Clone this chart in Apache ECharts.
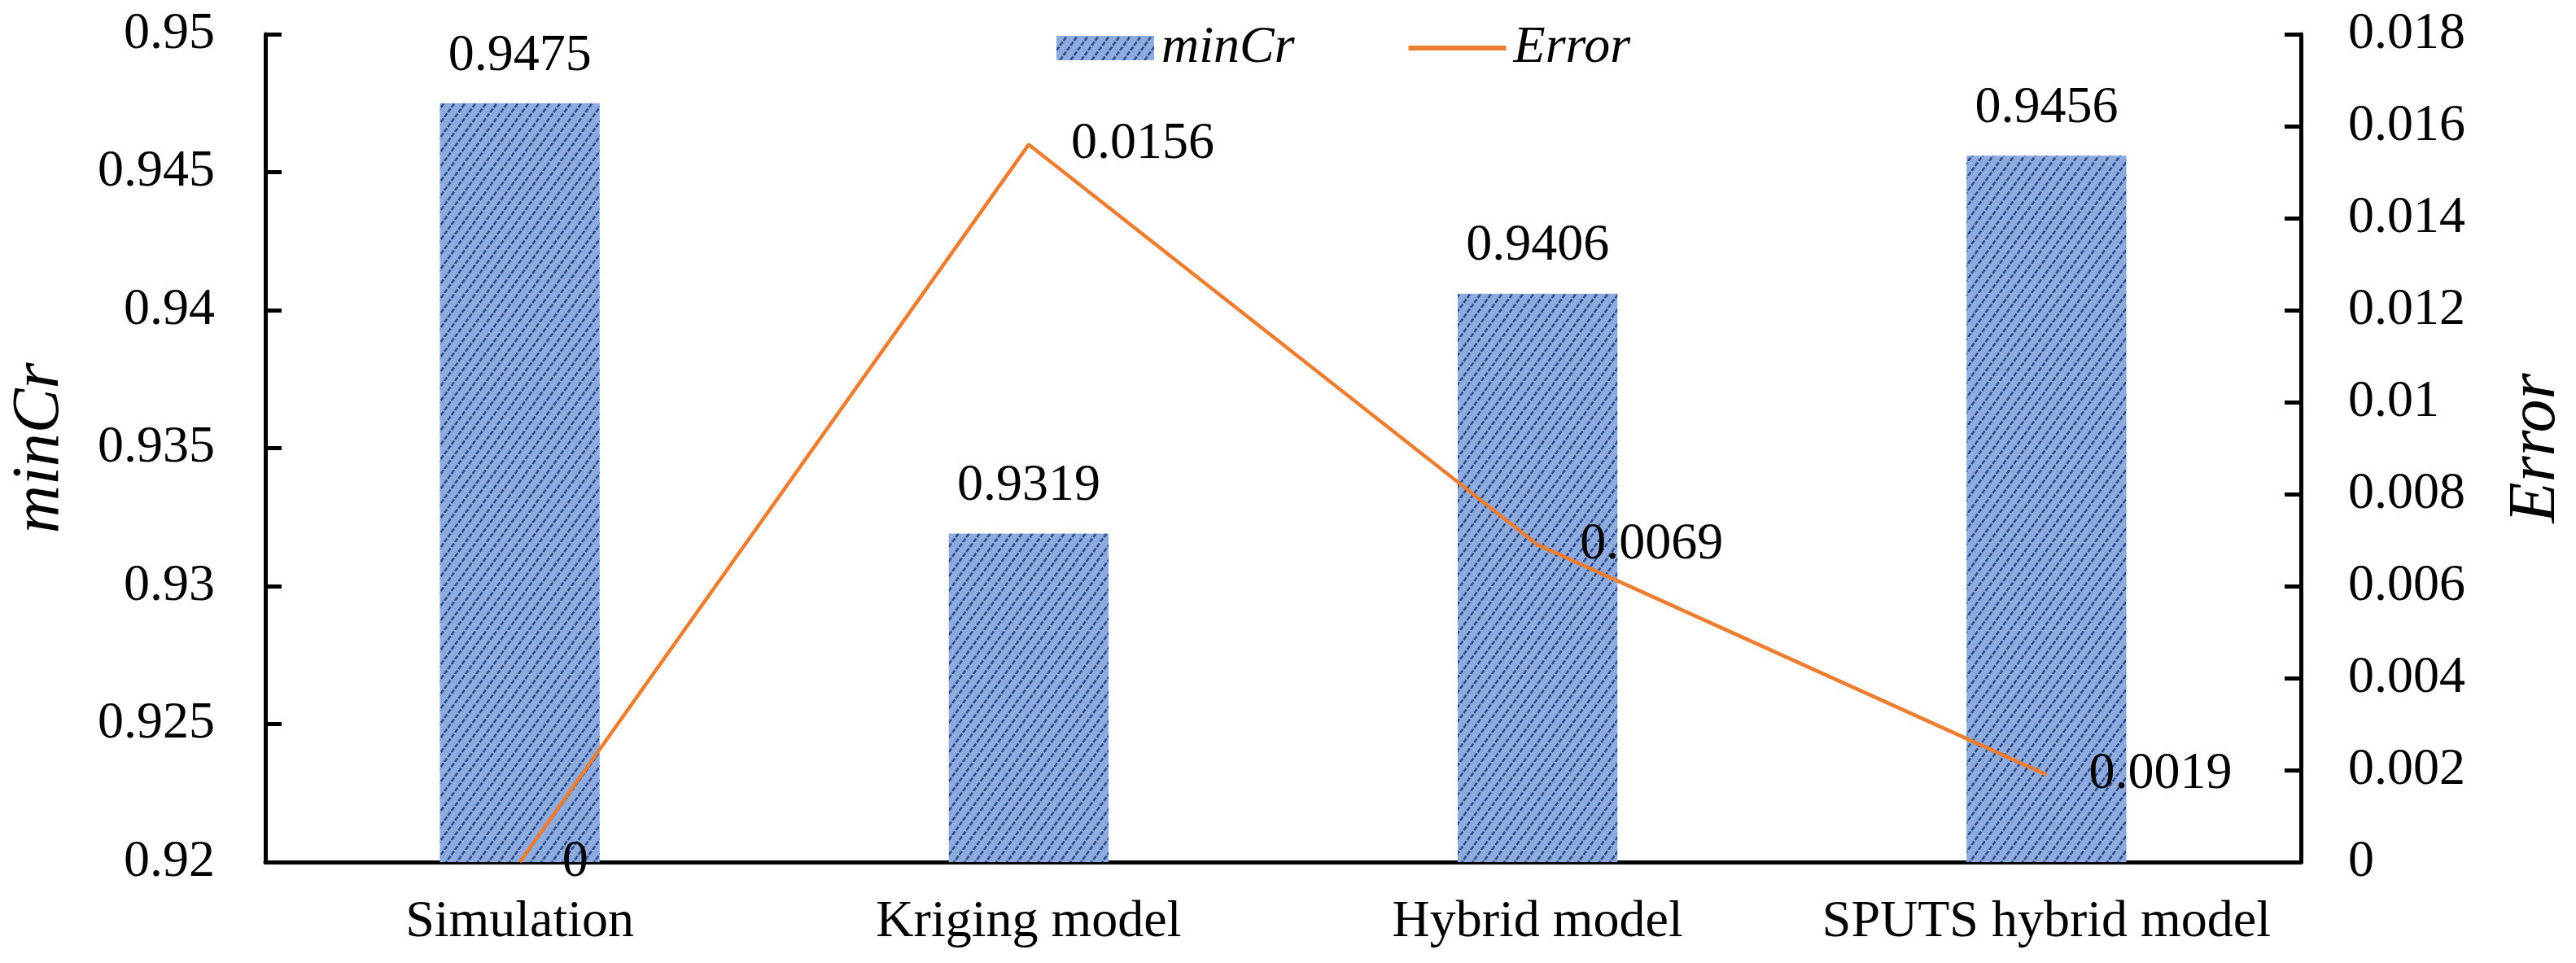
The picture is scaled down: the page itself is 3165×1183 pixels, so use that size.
<!DOCTYPE html>
<html>
<head>
<meta charset="utf-8">
<script src="https://cdn.jsdelivr.net/npm/echarts@6/dist/echarts.min.js"></script>
<style>
html,body{margin:0;padding:0;background:#fff;}
#chart{width:3165px;height:1183px;}
</style>
</head>
<body>
<div id="chart"></div>
<script>
const categories = ['Simulation', 'Kriging model', 'Hybrid model', 'SPUTS hybrid model'];
const minCrValues = [0.9475, 0.9319, 0.9406, 0.9456];
const errorValues = [0, 0.0156, 0.0069, 0.0019];
const leftTicks = [0.92, 0.925, 0.93, 0.935, 0.94, 0.945, 0.95];
const rightTicks = [0, 0.002, 0.004, 0.006, 0.008, 0.01, 0.012, 0.014, 0.016, 0.018];

const FONT = '"Liberation Serif", "Times New Roman", serif';

// hatched pattern tile: light blue with dark blue dotted diagonal stripes
function makeTile() {
  const w = 13, h = 18;
  const c = document.createElement('canvas');
  c.width = w; c.height = h;
  const ctx = c.getContext('2d');
  ctx.fillStyle = '#8FAADC';
  ctx.fillRect(0, 0, w, h);
  ctx.strokeStyle = '#2A4F8F';
  ctx.lineWidth = 2.6;
  const L = Math.sqrt(w * w + h * h);
  ctx.setLineDash([L / 3 * 0.75, L / 3 * 0.25]);
  for (const dx of [-w, 0, w]) {
    ctx.beginPath();
    ctx.moveTo(dx, h);
    ctx.lineTo(dx + w, 0);
    ctx.stroke();
  }
  return c;
}
const pattern = { image: makeTile(), repeat: 'repeat' };

function fmt(v) { return String(Number(v.toFixed(4))); }

const chart = echarts.init(document.getElementById('chart'), null, { renderer: 'canvas' });
chart.setOption({
  backgroundColor: '#ffffff',
  animation: false,
  textStyle: { fontFamily: FONT },
  legend: {
    left: 1293,
    top: 22,
    itemWidth: 120,
    itemHeight: 30,
    itemGap: 140,
    textStyle: { fontFamily: FONT, fontSize: 64, fontStyle: 'italic', color: '#000', padding: [0, 0, 0, 4] },
    data: [
      { name: 'minCr', icon: 'rect' },
      { name: 'Error', icon: 'path://M0,0 L120,0 L120,6 L0,6 Z' }
    ]
  },
  grid: { left: 322, right: 332, top: 42, bottom: 124, containLabel: false },
  xAxis: {
    type: 'category',
    data: categories,
    axisLine: { show: true, lineStyle: { color: '#000', width: 5 } },
    axisTick: { show: false },
    axisLabel: { color: '#000', fontFamily: FONT, fontSize: 64, margin: 42, interval: 0 },
    splitLine: { show: false }
  },
  yAxis: [
    {
      type: 'value',
      min: leftTicks[0],
      max: leftTicks[leftTicks.length - 1],
      interval: 0.005,
      name: 'minCr',
      nameLocation: 'middle',
      nameGap: 236,
      nameTextStyle: { fontFamily: FONT, fontSize: 82, fontStyle: 'italic', color: '#000' },
      axisLine: { show: true, lineStyle: { color: '#000', width: 5 } },
      axisTick: { show: true, inside: true, length: 20, lineStyle: { color: '#000', width: 5 } },
      axisLabel: { color: '#000', fontFamily: FONT, fontSize: 64, margin: 62, formatter: fmt },
      splitLine: { show: false }
    },
    {
      type: 'value',
      min: rightTicks[0],
      max: rightTicks[rightTicks.length - 1],
      interval: 0.002,
      position: 'right',
      name: 'Error',
      nameLocation: 'middle',
      nameGap: 248,
      nameTextStyle: { fontFamily: FONT, fontSize: 82, fontStyle: 'italic', color: '#000' },
      axisLine: { show: true, lineStyle: { color: '#000', width: 5 } },
      axisTick: { show: true, inside: true, length: 20, lineStyle: { color: '#000', width: 5 } },
      axisLabel: { color: '#000', fontFamily: FONT, fontSize: 64, margin: 58, formatter: fmt },
      splitLine: { show: false }
    }
  ],
  series: [
    {
      name: 'minCr',
      type: 'bar',
      data: minCrValues,
      barWidth: '31.4%',
      itemStyle: { color: pattern },
      label: {
        show: true, position: 'top', distance: 26,
        fontFamily: FONT, fontSize: 64, color: '#000',
        formatter: p => fmt(p.value)
      },
      z: 2
    },
    {
      name: 'Error',
      type: 'line',
      yAxisIndex: 1,
      data: errorValues,
      symbol: 'circle',
      symbolSize: 0.1,
      showSymbol: true,
      itemStyle: { color: '#ED7D31' },
      lineStyle: { color: '#ED7D31', width: 4.5 },
      label: {
        show: true, position: 'right', distance: 52,
        fontFamily: FONT, fontSize: 64, color: '#000',
        formatter: p => fmt(p.value)
      },
      z: 3
    }
  ]
});
</script>
</body>
</html>
